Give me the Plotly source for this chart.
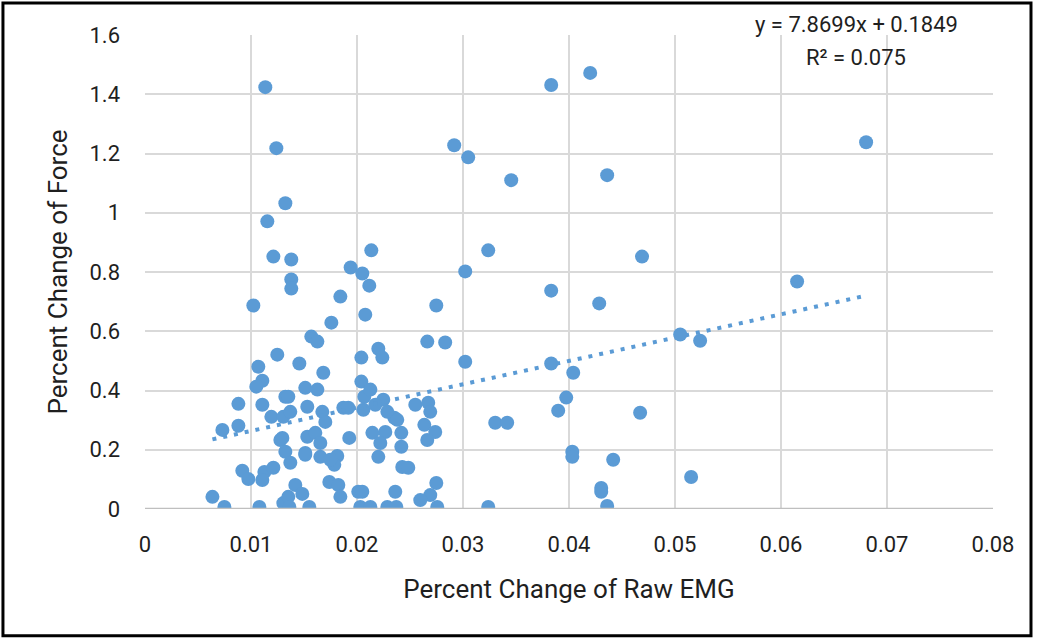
import plotly.graph_objects as go

# Percent change of raw EMG (x) and percent change of force (y)
emg = [
    0.01135, 0.01239, 0.01324, 0.01154, 0.01211, 0.0138, 0.0138, 0.0138, 0.01022, 0.01248,
    0.01069, 0.01107, 0.0105, 0.00881, 0.01107, 0.01324, 0.0073, 0.00881, 0.01192, 0.01296,
    0.00918, 0.00975, 0.01126, 0.01211, 0.01107, 0.00636, 0.00749, 0.01079, 0.01305,
    0.01843, 0.0194, 0.0205, 0.02135, 0.02116, 0.02078, 0.01758, 0.01569, 0.01626, 0.01456,
    0.01682, 0.02041, 0.02041, 0.01512, 0.01626, 0.01352, 0.02069, 0.02748, 0.02201, 0.02239,
    0.02663, 0.02832, 0.02126, 0.02248, 0.0255, 0.01512, 0.01654, 0.01814, 0.01786, 0.01927,
    0.01739, 0.01824, 0.01843, 0.02012, 0.02031, 0.01418, 0.01352, 0.01484, 0.0155, 0.01362,
    0.02352, 0.02635, 0.02738, 0.02663, 0.02267, 0.02418, 0.02418, 0.02201, 0.02427, 0.02484,
    0.02748, 0.02361, 0.02691, 0.02597, 0.02757, 0.02126, 0.02286, 0.02371,
    0.03021, 0.03238, 0.02917, 0.03049, 0.03455, 0.03832, 0.042, 0.0436, 0.03832, 0.03021,
    0.03832, 0.04285, 0.04689, 0.0404, 0.03974, 0.03898, 0.04031, 0.04031, 0.04417, 0.04671,
    0.04304, 0.04304, 0.0436, 0.05152, 0.05049, 0.05237, 0.06152, 0.06803,
    0.03238, 0.03304, 0.03417, 0.02672, 0.02691, 0.01305, 0.01371, 0.01531, 0.01673, 0.01701,
    0.01531, 0.01607, 0.01654, 0.01277, 0.01324, 0.01371, 0.01512, 0.01748, 0.01871, 0.01918,
    0.0206, 0.02145, 0.02173, 0.02286, 0.0238, 0.0222, 0.0205,
]
force = [
    1.424, 1.218, 1.032, 0.971, 0.852, 0.842, 0.775, 0.744, 0.687, 0.521,
    0.480, 0.433, 0.413, 0.355, 0.352, 0.379, 0.267, 0.281, 0.311, 0.240,
    0.129, 0.101, 0.125, 0.139, 0.098, 0.041, 0.007, 0.007, 0.020,
    0.717, 0.815, 0.795, 0.873, 0.754, 0.656, 0.629, 0.582, 0.565, 0.491,
    0.460, 0.511, 0.430, 0.409, 0.403, 0.379, 0.379, 0.687, 0.541, 0.511,
    0.565, 0.562, 0.403, 0.369, 0.352, 0.183, 0.176, 0.179, 0.149, 0.240,
    0.091, 0.081, 0.041, 0.058, 0.007, 0.081, 0.041, 0.051, 0.007, 0.007,
    0.308, 0.284, 0.260, 0.233, 0.260, 0.257, 0.210, 0.176, 0.142, 0.139,
    0.088, 0.058, 0.047, 0.030, 0.007, 0.007, 0.007, 0.007,
    0.802, 0.873, 1.228, 1.187, 1.110, 1.431, 1.472, 1.127, 0.737, 0.497,
    0.491, 0.694, 0.852, 0.460, 0.376, 0.332, 0.193, 0.176, 0.166, 0.325,
    0.071, 0.058, 0.010, 0.108, 0.589, 0.568, 0.768, 1.238,
    0.007, 0.291, 0.291, 0.359, 0.328, 0.311, 0.328, 0.345, 0.328, 0.294,
    0.244, 0.257, 0.223, 0.233, 0.193, 0.156, 0.189, 0.166, 0.342, 0.342,
    0.335, 0.257, 0.352, 0.328, 0.301, 0.223, 0.058,
]

# Linear trendline reported on the chart
slope = 7.8699
intercept = 0.1849
r_squared = 0.075

x_ticks = [0, 0.01, 0.02, 0.03, 0.04, 0.05, 0.06, 0.07, 0.08]
x_tick_labels = ["0", "0.01", "0.02", "0.03", "0.04", "0.05", "0.06", "0.07", "0.08"]
y_ticks = [0, 0.2, 0.4, 0.6, 0.8, 1.0, 1.2, 1.4, 1.6]
y_tick_labels = ["0", "0.2", "0.4", "0.6", "0.8", "1", "1.2", "1.4", "1.6"]

BLUE = "#5B9BD5"
FONT = "Liberation Sans Narrow, Roboto, Arial, sans-serif"
TXT = "#1F1F1F"

trend_x = [min(emg), max(emg)]
trend_y = [slope * v + intercept for v in trend_x]

fig = go.Figure()
fig.add_trace(go.Scatter(
    x=emg, y=force, mode="markers",
    marker=dict(color=BLUE, size=14, line=dict(width=0)),
    showlegend=False, hoverinfo="x+y",
))
fig.add_trace(go.Scatter(
    x=trend_x, y=trend_y, mode="lines",
    line=dict(color=BLUE, width=4, dash="4px,7px"),
    showlegend=False, hoverinfo="skip",
))

fig.update_layout(
    width=1039, height=640,
    margin=dict(l=145, r=46, t=35, b=131),
    paper_bgcolor="white", plot_bgcolor="white",
    font=dict(family=FONT, size=22, color=TXT),
    xaxis=dict(
        range=[0, 0.08], tickvals=x_ticks, ticktext=x_tick_labels,
        tickfont=dict(size=22, family=FONT, color=TXT),
        showgrid=True, gridcolor="#D9D9D9", gridwidth=2,
        zeroline=False, showline=False, ticks="",
        ticklabelstandoff=20,
        title=dict(text="Percent Change of Raw EMG", font=dict(size=26, family=FONT, color=TXT), standoff=23),
        fixedrange=True,
    ),
    yaxis=dict(
        range=[0, 1.6], tickvals=y_ticks, ticktext=y_tick_labels,
        tickfont=dict(size=22, family=FONT, color=TXT),
        showgrid=True, gridcolor="#D9D9D9", gridwidth=2,
        zeroline=False, showline=False, ticks="",
        ticklabelstandoff=24,
        title=dict(text="Percent Change of Force", font=dict(size=26, family=FONT, color=TXT), standoff=14),
        fixedrange=True,
    ),
    shapes=[
        # darker horizontal axis line at y = 0
        dict(type="line", xref="paper", yref="y", x0=0, x1=1, y0=0, y1=0,
             line=dict(color="#BFBFBF", width=2.5), layer="above"),
        # black frame around whole chart image
        dict(type="rect", xref="paper", yref="paper",
             x0=-0.1675, x1=1.0448, y0=-0.2676, y1=1.0675,
             line=dict(color="black", width=3), layer="above"),
    ],
    annotations=[
        dict(text=f"y = {slope}x + {intercept}", xref="paper", yref="paper",
             x=0.839, y=1.022, xanchor="center", yanchor="middle", showarrow=False,
             font=dict(size=22, family=FONT, color=TXT)),
        dict(text=f"R² = {r_squared}", xref="paper", yref="paper",
             x=0.839, y=0.953, xanchor="center", yanchor="middle", showarrow=False,
             font=dict(size=22, family=FONT, color=TXT)),
    ],
)

fig.write_html("out.html")
